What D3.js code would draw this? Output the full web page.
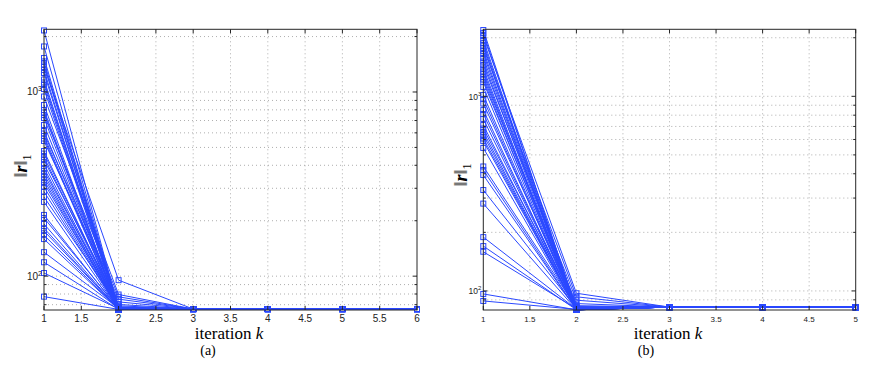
<!DOCTYPE html>
<html>
<head>
<meta charset="utf-8">
<script src="https://cdn.jsdelivr.net/npm/d3@7"></script>
<style>
  body { margin: 0; background: #fff; }
  .tick-lbl { font-family: "Liberation Sans", Arial, sans-serif; fill: #222; }
  .serif { font-family: "Liberation Serif", "Times New Roman", serif; fill: #000; }
</style>
</head>
<body>
<svg id="chart" width="871" height="389"></svg>
<script>
//
// Residual norm ||r||_1 per iteration, two experiments (a) and (b).
//

// ---- panel (a) ----
var iterA = [1, 2, 3, 4, 5, 6];
var xTicksA = [1, 1.5, 2, 2.5, 3, 3.5, 4, 4.5, 5, 5.5, 6];
var yLimA = [65.5, 2190];
var startA = [
  2159, 1767, 1530, 1465, 1411, 1367, 1317, 1268, 1169, 1126,
  1092, 1038, 945, 850, 798, 774, 750, 722, 662, 614,
  595, 577, 559, 542, 478, 463, 443, 427, 406, 386,
  372, 358, 345, 332, 320, 305, 288, 269, 253, 215,
  207, 192, 182, 176, 167, 159, 135, 119, 104, 77.4
];
var secondA = [
  66.0, 66.5, 67.0, 66.0, 66.2, 95.1, 66.0, 67.5, 66.0, 68.0,
  66.0, 66.4, 79.5, 66.0, 67.0, 66.0, 77.2, 66.0, 66.8, 66.0,
  75.0, 66.0, 66.0, 72.5, 66.0, 67.0, 66.0, 70.2, 66.0, 66.0,
  68.0, 66.0, 66.5, 66.0, 67.0, 66.0, 66.0, 69.0, 66.0, 66.0,
  67.0, 66.0, 66.0, 66.3, 66.0, 66.0, 67.0, 66.0, 66.5, 66.0
];
var tailA = [66.3, 66.3, 66.3, 66.3];   // k = 3..6, all runs converge
var gridYA = [70, 80, 90, 100, 200, 300, 400, 500, 600, 700, 800, 900, 1000, 2000];

// ---- panel (b) ----
var iterB = [1, 2, 3, 4, 5];
var xTicksB = [1, 1.5, 2, 2.5, 3, 3.5, 4, 4.5, 5];
var yLimB = [79.8, 2210];
var startB = [
  2191, 2114, 2040, 1947, 1878, 1823, 1770, 1709, 1650, 1573,
  1509, 1448, 1389, 1341, 1302, 1256, 1220, 1184, 1116, 1016,
  968, 918, 850, 811, 765, 712, 683, 656, 633, 607,
  589, 543, 436, 418, 394, 330, 281, 189, 170, 159,
  96.5, 88.8
];
var secondB = [
  80.2, 81.0, 97.3, 80.5, 82.0, 80.0, 93.3, 81.5, 80.3, 83.0,
  80.0, 89.6, 80.6, 81.2, 80.0, 86.1, 80.4, 82.5, 80.0, 81.0,
  80.2, 84.0, 80.0, 80.8, 81.5, 80.0, 82.9, 80.3, 80.0, 81.0,
  80.5, 80.0, 82.0, 80.2, 80.0, 81.3, 80.0, 80.6, 80.0, 81.0,
  80.0, 80.4
];
var tailB = [82.6, 82.6, 82.6];          // k = 3..5
var gridYB = [90, 100, 200, 300, 400, 500, 600, 700, 800, 900, 1000, 2000];

var yMajor = [100, 1000];
var lineColor = '#2a48ff';

const panels = [
  { iters: iterA, xTicks: xTicksA, yLim: yLimA, start: startA, second: secondA, tail: tailA, gridY: gridYA,
    left: 44, right: 417, top: 29.3, bottom: 310, tickFont: 10, yFont: 10,
    yLabX: 27, yLabY: 166, xLabX: 229, caption: '(a)', capX: 208 },
  { iters: iterB, xTicks: xTicksB, yLim: yLimB, start: startB, second: secondB, tail: tailB, gridY: gridYB,
    left: 483.3, right: 855.7, top: 29.3, bottom: 310, tickFont: 8, yFont: 8.5,
    yLabX: 467, yLabY: 175, xLabX: 668, caption: '(b)', capX: 646 }
];

const svg = d3.select('#chart');

panels.forEach(p => {
  const g = svg.append('g');
  const x = d3.scaleLinear().domain([p.iters[0], p.iters[p.iters.length - 1]]).range([p.left, p.right]);
  const y = d3.scaleLog().domain(p.yLim).range([p.bottom, p.top]);

  // grid (dotted)
  p.xTicks.forEach(t => {
    if (t == p.iters[0] || t == p.iters[p.iters.length - 1]) return;
    g.append('line')
      .attr('x1', x(t)).attr('x2', x(t)).attr('y1', p.top).attr('y2', p.bottom)
      .attr('stroke', '#999').attr('stroke-width', 0.8).attr('stroke-dasharray', '1,3');
  });
  p.gridY.forEach(v => {
    if (v <= p.yLim[0] || v >= p.yLim[1]) return;
    g.append('line')
      .attr('x1', p.left).attr('x2', p.right).attr('y1', y(v)).attr('y2', y(v))
      .attr('stroke', '#999').attr('stroke-width', 0.8).attr('stroke-dasharray', '1,3');
  });

  // one polyline per run
  const runs = p.start.map((s, i) => [s, p.second[i]].concat(p.tail));
  const line = d3.line().x((d, i) => x(p.iters[i])).y(d => y(d));
  runs.forEach(r => {
    g.append('path').attr('d', line(r))
      .attr('fill', 'none').attr('stroke', lineColor).attr('stroke-width', 1);
  });
  runs.forEach(r => {
    r.forEach((v, i) => {
      g.append('rect')
        .attr('x', x(p.iters[i]) - 2.5).attr('y', y(v) - 2.5)
        .attr('width', 5).attr('height', 5)
        .attr('fill', 'none').attr('stroke', lineColor).attr('stroke-width', 1);
    });
  });

  // box
  g.append('rect')
    .attr('x', p.left).attr('y', p.top)
    .attr('width', p.right - p.left).attr('height', p.bottom - p.top)
    .attr('fill', 'none').attr('stroke', '#262626').attr('stroke-width', 1);

  // x ticks (inward, bottom and top) + labels
  p.xTicks.forEach(t => {
    g.append('line').attr('x1', x(t)).attr('x2', x(t)).attr('y1', p.bottom).attr('y2', p.bottom - 4)
      .attr('stroke', '#262626');
    g.append('line').attr('x1', x(t)).attr('x2', x(t)).attr('y1', p.top).attr('y2', p.top + 4)
      .attr('stroke', '#262626');
    g.append('text').attr('class', 'tick-lbl')
      .attr('x', x(t)).attr('y', p.bottom + 11.5)
      .attr('text-anchor', 'middle').style('font-size', p.tickFont + 'px')
      .text(d3.format('~g')(t));
  });

  // y ticks: minor at grid values, major with 10^n labels
  p.gridY.forEach(v => {
    if (v <= p.yLim[0] || v >= p.yLim[1]) return;
    const len = yMajor.includes(v) ? 4 : 2.5;
    g.append('line').attr('x1', p.left).attr('x2', p.left + len).attr('y1', y(v)).attr('y2', y(v))
      .attr('stroke', '#262626');
    g.append('line').attr('x1', p.right).attr('x2', p.right - len).attr('y1', y(v)).attr('y2', y(v))
      .attr('stroke', '#262626');
  });
  yMajor.forEach(v => {
    const lbl = g.append('text').attr('class', 'tick-lbl')
      .attr('x', p.left - 2).attr('y', y(v) + 3.5)
      .attr('text-anchor', 'end').style('font-size', p.yFont + 'px');
    lbl.append('tspan').text('10');
    lbl.append('tspan').attr('dy', -4).style('font-size', (p.yFont * 0.7) + 'px')
      .text(Math.round(Math.log10(v)));
  });

  // axis titles
  const yl = g.append('text').attr('class', 'serif')
    .attr('transform', `translate(${p.yLabX},${p.yLabY}) rotate(-90)`)
    .attr('text-anchor', 'middle').style('font-size', '18px');
  yl.append('tspan').text('\u2016');
  yl.append('tspan').style('font-weight', 'bold').style('font-style', 'italic').text('r');
  yl.append('tspan').text('\u2016');
  yl.append('tspan').attr('dy', 4).style('font-size', '12px').text('1');

  const xl = g.append('text').attr('class', 'serif')
    .attr('x', p.xLabX).attr('y', 339)
    .attr('text-anchor', 'middle').style('font-size', '17px');
  xl.append('tspan').text('iteration ');
  xl.append('tspan').style('font-style', 'italic').text('k');

  g.append('text').attr('class', 'serif')
    .attr('x', p.capX).attr('y', 355)
    .attr('text-anchor', 'middle').style('font-size', '14px')
    .text(p.caption);
});
</script>
</body>
</html>
